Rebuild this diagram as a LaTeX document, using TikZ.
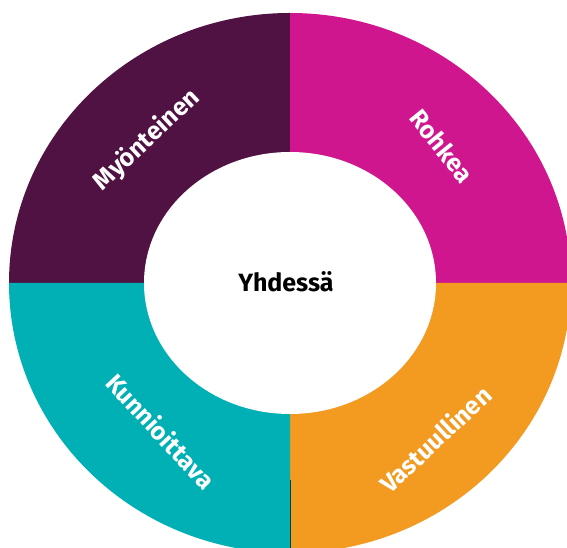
\documentclass[tikz,border=0pt]{standalone}
\usepackage{fontspec}
\setmainfont{Fira Sans}
\usetikzlibrary{positioning, calc}
\definecolor{ringplum}{RGB}{79, 18, 67}
\definecolor{ringpink}{RGB}{207, 22, 142}
\definecolor{ringteal}{RGB}{0, 176, 180}
\definecolor{ringorange}{RGB}{243, 154, 32}

\begin{document}
\begin{tikzpicture}[x=1pt, y=1pt,
    ringtext/.style={text=white, font=\bfseries\fontsize{25}{25}\selectfont},
    hubtext/.style={text=black, font=\bfseries\fontsize{25}{25}\selectfont}
]
    \useasboundingbox (0,0) rectangle (567,548);
    \clip (0,0) rectangle (567,548);
    \coordinate (c) at (290,265);

    \fill[ringplum] (c) -- ++(-281,0) arc[start angle=180, end angle=90, x radius=281, y radius=270] -- cycle;
    \fill[ringpink] (c) -- ++(0,270) arc[start angle=90, end angle=0, x radius=281, y radius=270] -- cycle;
    \fill[ringorange] (c) -- ++(281,0) arc[start angle=0, end angle=-90, x radius=281, y radius=270] -- cycle;
    \fill[ringteal] (c) -- ++(0,-270) arc[start angle=-90, end angle=-180, x radius=281, y radius=270] -- cycle;
    \fill[white] (c) ellipse[x radius=146, y radius=131];
    \draw[black!60!ringteal, line width=1pt] (290,68) -- (290,0);

    \node[hubtext] (hub) at (286,266) {Yhdessä};
    \node[ringtext, rotate=43] (myonteinen) at (147,408) {Myönteinen};
    \node[ringtext, rotate=-51] (rohkea) at (442,402) {Rohkea};
    \node[ringtext, rotate=-47] (kunnioittava) at (161,117) {Kunnioittava};
    \node[ringtext, rotate=43] (vastuullinen) at (435,109) {Vastuullinen};
\end{tikzpicture}
\end{document}
